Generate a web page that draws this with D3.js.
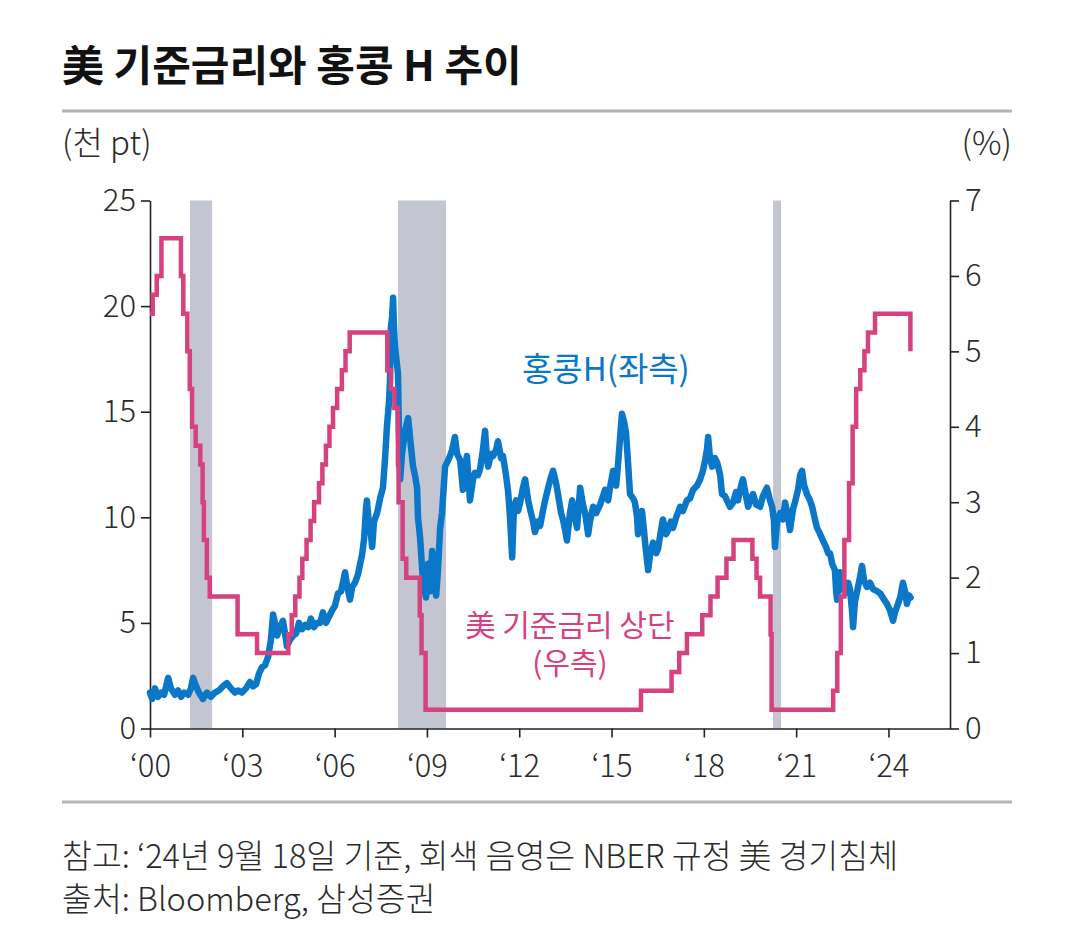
<!DOCTYPE html>
<html><head><meta charset="utf-8">
<script src="https://cdn.jsdelivr.net/npm/d3@7"></script>
<style>
body{margin:0;background:#fff}
svg text{font-family:"Noto Sans CJK KR","Noto Sans",sans-serif}
</style>
</head><body>
<svg id="c" width="1080" height="942"></svg>
<script>
// ---------- text ----------
const titleText = "美 기준금리와 홍콩 H 추이";
const leftUnit = "(천 pt)";
const rightUnit = "(%)";
const blueLabel = "홍콩H(좌측)";
const pinkLabel1 = "美 기준금리 상단";
const pinkLabel2 = "(우측)";
const note1 = "참고: \u201824년 9월 18일 기준, 회색 음영은 NBER 규정 美 경기침체";
const note2 = "출처: Bloomberg, 삼성증권";

// ---------- ticks ----------
const xTickYears = [2000, 2003, 2006, 2009, 2012, 2015, 2018, 2021, 2024];
const leftTicks = [0, 5, 10, 15, 20, 25];
const rightTicks = [0, 1, 2, 3, 4, 5, 6, 7];

// ---------- NBER recessions (decimal years, as shaded) ----------
const recessions = [[2001.30, 2002.02], [2008.06, 2009.62], [2020.25, 2020.51]];

// ---------- US Fed funds target upper bound (%), step changes ----------
const fedDates = ["2000-01-01","2000-02-02","2000-03-21","2000-05-16","2001-01-03","2001-01-31","2001-03-20","2001-04-18","2001-05-15","2001-06-27","2001-08-21","2001-09-17","2001-10-02","2001-11-06","2001-12-11","2002-11-06","2003-06-25","2004-06-30","2004-08-10","2004-09-21","2004-11-10","2004-12-14","2005-02-02","2005-03-22","2005-05-03","2005-06-30","2005-08-09","2005-09-20","2005-11-01","2005-12-13","2006-01-31","2006-03-28","2006-05-10","2006-06-29","2007-09-18","2007-10-31","2007-12-11","2008-01-22","2008-01-30","2008-03-18","2008-04-30","2008-10-08","2008-10-29","2008-12-16","2015-12-16","2016-12-14","2017-03-15","2017-06-14","2017-12-13","2018-03-21","2018-06-13","2018-09-26","2018-12-19","2019-07-31","2019-09-18","2019-10-30","2020-03-03","2020-03-15","2022-03-16","2022-05-04","2022-06-15","2022-07-27","2022-09-21","2022-11-02","2022-12-14","2023-02-01","2023-03-22","2023-05-03","2023-07-26","2024-09-18"];
const fedRates = [5.5,5.75,6.0,6.5,6.0,5.5,5.0,4.5,4.0,3.75,3.5,3.0,2.5,2.0,1.75,1.25,1.0,1.25,1.5,1.75,2.0,2.25,2.5,2.75,3.0,3.25,3.5,3.75,4.0,4.25,4.5,4.75,5.0,5.25,4.75,4.5,4.25,3.5,3.0,2.25,2.0,1.5,1.0,0.25,0.5,0.75,1.0,1.25,1.5,1.75,2.0,2.25,2.5,2.25,2.0,1.75,1.25,0.25,0.5,1.0,1.75,2.5,3.25,4.0,4.5,4.75,5.0,5.25,5.5,5.0];

// ---------- Hang Seng China Enterprises Index (thousand pt) [decimal year, value] ----------
const hscei = [
[2000.00,1.7],[2000.07,1.4],[2000.16,1.9],[2000.26,1.5],[2000.36,1.7],[2000.46,1.6],[2000.59,2.4],[2000.68,1.9],[2000.81,1.6],[2000.91,1.8],
[2001.01,1.5],[2001.11,1.7],[2001.24,1.6],[2001.33,1.9],[2001.40,2.4],[2001.50,2.0],[2001.59,1.7],[2001.72,1.4],[2001.85,1.7],[2001.98,1.5],
[2002.11,1.7],[2002.24,1.8],[2002.37,2.0],[2002.50,2.15],[2002.63,1.9],[2002.76,1.7],[2002.86,1.8],[2002.99,1.7],
[2003.12,1.9],[2003.25,2.2],[2003.35,2.0],[2003.45,2.1],[2003.54,2.6],[2003.64,2.9],[2003.74,3.0],[2003.84,3.4],[2003.93,4.2],
[2004.00,5.4],[2004.06,5.0],[2004.13,4.4],[2004.23,4.8],[2004.32,5.1],[2004.39,4.5],[2004.45,3.9],[2004.55,4.2],[2004.65,4.4],[2004.75,4.5],[2004.84,5.0],[2004.94,4.7],
[2005.04,4.9],[2005.14,4.8],[2005.23,5.2],[2005.33,4.8],[2005.43,5.0],[2005.53,5.0],[2005.62,5.5],[2005.72,5.0],[2005.82,5.3],[2005.92,5.6],
[2006.01,5.8],[2006.11,6.4],[2006.21,6.5],[2006.27,6.9],[2006.34,7.4],[2006.40,6.8],[2006.50,6.1],[2006.57,6.7],[2006.66,6.9],[2006.76,7.3],[2006.83,7.8],[2006.89,8.2],[2006.96,9.0],
[2007.02,10.4],[2007.05,10.8],[2007.12,9.6],[2007.18,9.2],[2007.22,8.6],[2007.28,9.8],[2007.38,10.2],[2007.48,10.9],[2007.57,11.4],[2007.64,12.8],[2007.70,14.3],[2007.77,15.5],[2007.80,16.5],[2007.83,19.0],[2007.87,19.5],[2007.90,20.4],[2007.93,19.0],[2007.96,18.1],
[2008.03,17.2],[2008.06,16.8],[2008.09,14.0],[2008.13,11.8],[2008.19,13.0],[2008.29,14.1],[2008.39,14.7],[2008.45,13.8],[2008.52,12.8],[2008.55,12.4],[2008.61,12.0],[2008.68,11.4],[2008.71,10.0],[2008.78,9.0],[2008.87,7.0],[2008.97,6.2],
[2009.04,7.8],[2009.10,6.5],[2009.17,8.4],[2009.23,7.0],[2009.30,6.3],[2009.36,7.5],[2009.43,9.5],[2009.49,10.2],[2009.59,12.4],[2009.69,12.7],[2009.75,12.9],[2009.82,13.2],[2009.91,13.8],[2009.98,13.0],
[2010.08,12.7],[2010.17,11.3],[2010.24,12.3],[2010.30,12.9],[2010.40,10.8],[2010.50,11.8],[2010.56,12.1],[2010.66,12.0],[2010.73,12.3],[2010.82,13.2],[2010.89,14.1],[2010.95,12.8],[2010.99,12.4],
[2011.08,13.0],[2011.15,12.9],[2011.25,13.2],[2011.31,13.6],[2011.41,12.8],[2011.47,12.9],[2011.57,12.0],[2011.64,11.2],[2011.70,10.0],[2011.77,8.1],[2011.83,10.5],[2011.90,10.8],[2011.96,10.3],
[2012.03,10.7],[2012.12,11.4],[2012.19,11.8],[2012.29,10.8],[2012.35,10.4],[2012.45,9.8],[2012.51,9.3],[2012.61,9.8],[2012.68,9.6],[2012.77,10.3],[2012.84,10.8],[2012.94,11.4],
[2013.03,11.9],[2013.10,12.2],[2013.20,11.6],[2013.26,11.1],[2013.36,10.2],[2013.42,9.9],[2013.49,9.4],[2013.55,8.9],[2013.65,10.2],[2013.72,10.8],[2013.81,10.0],[2013.88,9.5],[2013.98,11.4],
[2014.07,10.6],[2014.14,10.2],[2014.24,9.2],[2014.30,9.8],[2014.40,10.5],[2014.50,10.2],[2014.63,10.6],[2014.72,11.0],[2014.79,11.3],[2014.89,10.8],[2014.95,11.4],
[2015.05,12.2],[2015.15,11.5],[2015.21,12.5],[2015.28,13.8],[2015.34,14.9],[2015.41,14.5],[2015.47,14.0],[2015.54,12.5],[2015.60,11.1],[2015.70,10.9],[2015.76,10.7],[2015.83,10.0],[2015.86,9.2],[2015.93,9.8],[2015.99,10.3],
[2016.06,9.3],[2016.09,8.8],[2016.15,8.0],[2016.19,7.5],[2016.25,8.2],[2016.35,8.8],[2016.45,8.3],[2016.51,8.5],[2016.61,9.4],[2016.67,9.9],[2016.77,9.2],[2016.84,9.4],[2016.93,9.8],
[2017.00,9.5],[2017.10,10.0],[2017.23,10.5],[2017.32,10.3],[2017.45,10.8],[2017.55,10.9],[2017.65,11.3],[2017.78,11.5],[2017.88,11.8],[2017.97,12.2],
[2018.04,12.7],[2018.10,13.2],[2018.14,13.8],[2018.20,12.8],[2018.27,12.4],[2018.36,12.8],[2018.43,12.6],[2018.53,12.0],[2018.59,11.1],[2018.69,11.0],[2018.75,10.8],[2018.85,10.5],[2018.95,10.7],
[2019.05,11.2],[2019.11,10.8],[2019.21,11.5],[2019.27,11.8],[2019.37,11.0],[2019.44,10.5],[2019.53,10.9],[2019.60,11.1],[2019.70,10.6],[2019.83,10.5],[2019.92,11.0],
[2020.05,11.4],[2020.15,10.8],[2020.22,10.5],[2020.28,9.8],[2020.31,8.6],[2020.38,9.8],[2020.48,10.2],[2020.57,9.9],[2020.64,10.7],[2020.74,10.0],[2020.80,9.4],[2020.90,10.4],[2020.96,10.7],
[2021.06,11.3],[2021.13,12.0],[2021.19,12.2],[2021.26,11.5],[2021.35,11.1],[2021.45,10.8],[2021.52,10.5],[2021.61,9.9],[2021.68,9.5],[2021.78,9.2],[2021.87,8.9],[2021.97,8.6],
[2022.04,8.3],[2022.10,8.3],[2022.17,7.8],[2022.26,7.5],[2022.30,6.5],[2022.33,6.1],[2022.39,7.0],[2022.43,7.4],[2022.49,6.8],[2022.59,6.4],[2022.69,6.9],[2022.75,6.6],[2022.82,5.5],[2022.85,4.8],[2022.91,6.0],
[2023.01,6.7],[2023.08,7.2],[2023.14,7.7],[2023.21,7.0],[2023.30,6.7],[2023.40,6.9],[2023.50,6.6],[2023.63,6.5],[2023.73,6.4],[2023.86,6.1],[2023.95,5.9],
[2024.05,5.6],[2024.15,5.1],[2024.21,5.5],[2024.31,5.9],[2024.38,6.2],[2024.47,6.9],[2024.54,6.5],[2024.60,5.9],[2024.67,6.3],[2024.72,6.2]
];

// ---------- colours ----------
const COL_BLUE = "#0A77C8";
const COL_PINK = "#D6417F";
const COL_BAND = "#C3C6D1";
const COL_TEXT = "#2b2b2b";

// ---------- layout ----------
const svg = d3.select("#c");
const X0 = 150, X1 = 950, Y0 = 728.5, Y1 = 200.5;

const x = d3.scaleLinear().domain([2000, 2026]).range([X0, X1]);
const yL = d3.scaleLinear().domain([0, 25]).range([Y0, Y1]);
const yR = d3.scaleLinear().domain([0, 7]).range([Y0, Y1]);

const parse = d3.timeParse("%Y-%m-%d");
function decYear(s) {
  const d = parse(s), y = d.getFullYear();
  const a = new Date(y, 0, 1), b = new Date(y + 1, 0, 1);
  return y + (d - a) / (b - a);
}

// Title
svg.append("text").attr("x", 62).attr("y", 81)
  .attr("font-size", 42).attr("font-weight", 700).attr("fill", "#111")
  .text(titleText);

// rules
svg.append("line").attr("x1", 62).attr("x2", 1012).attr("y1", 111).attr("y2", 111)
  .attr("stroke", "#b4b4b4").attr("stroke-width", 3);
svg.append("line").attr("x1", 62).attr("x2", 1012).attr("y1", 802).attr("y2", 802)
  .attr("stroke", "#b4b4b4").attr("stroke-width", 3);

// units
svg.append("text").attr("x", 62).attr("y", 155).attr("font-size", 33).attr("font-weight", 300)
  .attr("fill", COL_TEXT).text(leftUnit);
svg.append("text").attr("x", 1012).attr("y", 155).attr("font-size", 33).attr("font-weight", 300)
  .attr("text-anchor", "end").attr("fill", COL_TEXT).text(rightUnit);

// recession bands
svg.append("g").selectAll("rect").data(recessions).join("rect")
  .attr("x", d => x(d[0])).attr("width", d => x(d[1]) - x(d[0]))
  .attr("y", Y1).attr("height", Y0 - Y1)
  .attr("fill", COL_BAND);

// axes
function styleAxis(g) {
  g.selectAll("path.domain").attr("stroke", "#222").attr("stroke-width", 1.6);
  g.selectAll(".tick line").attr("stroke", "#222").attr("stroke-width", 1.6);
  g.selectAll(".tick text").attr("fill", COL_TEXT).attr("font-size", 31).attr("font-weight", 300)
    .attr("font-family", "'Noto Sans CJK KR','Noto Sans',sans-serif");
}
svg.append("g").attr("transform", `translate(${X0},0)`)
  .call(d3.axisLeft(yL).tickValues(leftTicks).tickFormat(d3.format("d"))
    .tickSize(9).tickSizeOuter(0).tickPadding(5))
  .call(styleAxis);
svg.append("g").attr("transform", `translate(${X1},0)`)
  .call(d3.axisRight(yR).tickValues(rightTicks).tickFormat(d3.format("d"))
    .tickSize(9).tickSizeOuter(0).tickPadding(6))
  .call(styleAxis);
svg.append("g").attr("transform", `translate(0,${Y0})`)
  .call(d3.axisBottom(x).tickValues(xTickYears).tickFormat(d => "\u2018" + String(d).slice(2))
    .tickSize(9).tickSizeOuter(0).tickPadding(17))
  .call(styleAxis);

// HSCEI line (left axis)
const blueLine = d3.line().x(d => x(d[0])).y(d => yL(d[1])).curve(d3.curveLinear);
svg.append("path").datum(hscei)
  .attr("d", blueLine).attr("fill", "none").attr("stroke", COL_BLUE)
  .attr("stroke-width", 6.5).attr("stroke-linejoin", "round").attr("stroke-linecap", "round");

// Fed funds (right axis), stepped
const fed = fedDates.map((s, i) => [decYear(s), fedRates[i]]);
const pinkLine = d3.line().x(d => x(d[0])).y(d => yR(d[1])).curve(d3.curveStepAfter);
svg.append("path").datum(fed)
  .attr("d", pinkLine).attr("fill", "none").attr("stroke", COL_PINK)
  .attr("stroke-width", 4.5).attr("stroke-linejoin", "miter");

// series labels
svg.append("text").attr("x", 522).attr("y", 381).attr("font-size", 33).attr("font-weight", 400)
  .attr("fill", COL_BLUE).text(blueLabel);
svg.append("text").attr("x", 570).attr("y", 636).attr("font-size", 30).attr("font-weight", 400)
  .attr("text-anchor", "middle").attr("fill", COL_PINK).text(pinkLabel1);
svg.append("text").attr("x", 570).attr("y", 674).attr("font-size", 30).attr("font-weight", 400)
  .attr("text-anchor", "middle").attr("fill", COL_PINK).text(pinkLabel2);

// footer
svg.append("text").attr("x", 62).attr("y", 868).attr("font-size", 32.5).attr("font-weight", 300)
  .attr("fill", COL_TEXT).text(note1);
svg.append("text").attr("x", 62).attr("y", 911).attr("font-size", 32.5).attr("font-weight", 300)
  .attr("fill", COL_TEXT).text(note2);
</script>
</body></html>
